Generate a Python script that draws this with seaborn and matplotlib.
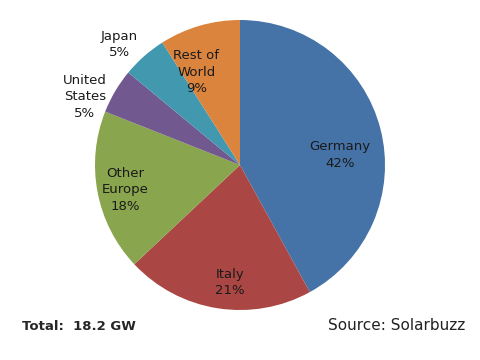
import numpy as np
import matplotlib.pyplot as plt
import seaborn as sns

sns.set_style("white")
plt.rcParams['font.family'] = ['DejaVu Sans']

# market share of PV installations
countries = ['Germany', 'Italy', 'Other\nEurope', 'United\nStates', 'Japan', 'Rest of\nWorld']
share = [42, 21, 18, 5, 5, 9]
colors = ['#4572A7', '#AA4643', '#89A54E', '#71588F', '#4198AF', '#DB843D']
# label placement, in pie-radius units from the centre
label_pos = [(0.69, 0.07), (-0.07, -0.81), (-0.79, -0.17),
             (-1.07, 0.47), (-0.83, 0.83), (-0.30, 0.64)]

fig = plt.figure(figsize=(4.8, 3.6), dpi=100)
ax = fig.add_axes([(240 - 145) / 480, (360 - 165 - 145) / 360, 290 / 480, 290 / 360])

ax.pie(share, colors=colors, startangle=90, counterclock=False,
       wedgeprops=dict(linewidth=0))
ax.set_xlim(-1, 1)
ax.set_ylim(-1, 1)
ax.set_aspect('equal')

for name, val, (x, y) in zip(countries, share, label_pos):
    ax.text(x, y, f'{name}\n{val}%', ha='center', va='center',
            fontsize=9.5, color='#1a1a1a', linespacing=1.35, clip_on=False)

fig.text(22 / 480, 1 - 326 / 360, 'Total:  18.2 GW', fontsize=9.5,
         fontweight='bold', ha='left', va='center')
fig.text(465 / 480, 1 - 325 / 360, 'Source: Solarbuzz', fontsize=11,
         ha='right', va='center', color='#222222')

fig.savefig('out.png', dpi=100)
